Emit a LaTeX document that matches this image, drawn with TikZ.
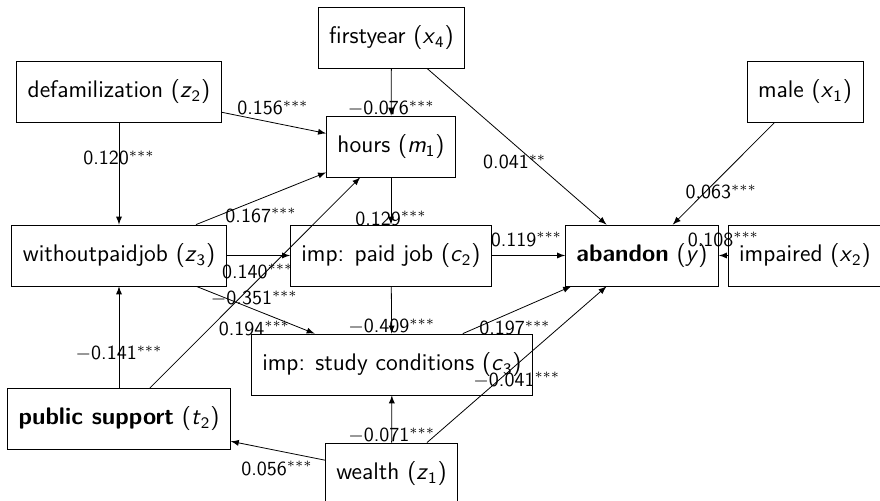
\documentclass[tikz,border=0pt]{standalone}
\usepackage{tikz}
\usetikzlibrary{arrows}
\newcommand{\vn}[2]{\textit{#1}\textsubscript{#2}}
\tikzstyle{var}=[draw,rectangle,minimum height=30.5pt,inner xsep=5.5pt,font=\large\sffamily]
\tikzstyle{coef}=[inner sep=1pt,font=\sffamily]

\begin{document}
\begin{tikzpicture}[x=0.5pt,y=-0.5pt,>=latex]
\useasboundingbox (0,0) rectangle (880,501);
\node[var] (x4) at (391.5,37.5)  {firstyear (\vn{x}{4})};
\node[var] (z2) at (119,91.5)    {defamilization (\vn{z}{2})};
\node[var] (m1) at (391,146.5)   {hours (\vn{m}{1})};
\node[var] (x1) at (805,92)      {male (\vn{x}{1})};
\node[var] (z3) at (119,255.5)   {withoutpaidjob (\vn{z}{3})};
\node[var] (c2) at (391,255.5)   {imp: paid job (\vn{c}{2})};
\node[var] (y)  at (642,255.5)   {\textbf{abandon} (\textit{y})};
\node[var] (x2) at (805,255.5)   {impaired (\vn{x}{2})};
\node[var] (c3) at (392,364.5)   {imp: study conditions (\vn{c}{3})};
\node[var] (t2) at (119,419)     {\textbf{public support} (\vn{t}{2})};
\node[var] (z1) at (391.5,473.5) {wealth (\vn{z}{1})};
\path[->]	(x4)	edge	node[coef,pos=.85]			{$-$0.076$^{***}$}	(m1)
			edge	node[coef,pos=.6,xshift=-10pt]		{0.041$^{**}$}		(y)
		(z2)	edge	node[coef,pos=.49,yshift=7.5pt]		{0.156$^{***}$}		(m1)
			edge	node[coef,pos=.35]			{0.120$^{***}$}		(z3)
		(m1)	edge	node[coef,pos=.87]			{0.129$^{***}$}		(c2)
		(x1)	edge	node[coef,pos=.68,xshift=8pt]		{0.063$^{***}$}		(y)
		(z3)	edge	node[coef,pos=.5,yshift=-8.5pt]		{0.167$^{***}$}		(m1)
			edge	node[coef,pos=.49,yshift=-8pt]		{0.140$^{***}$}		(c2)
			edge	node[coef,pos=.49,yshift=-9.5pt]	{0.194$^{***}$}		(c3)
		(t2)	edge	node[coef,pos=.425,xshift=7.5pt]	{$-$0.351$^{***}$}	(m1)
			edge	node[coef,pos=.34]			{$-$0.141$^{***}$}	(z3)
		(c2)	edge	node[coef,pos=.47,yshift=8pt]		{0.119$^{***}$}		(y)
			edge	node[coef,pos=.85]			{$-$0.409$^{***}$}	(c3)
		(x2)	edge	node[coef,pos=.5,yshift=8pt]		{0.108$^{***}$}		(y)
		(c3)	edge	node[coef,pos=.48,yshift=-8.5pt]	{0.197$^{***}$}		(y)
		(z1)	edge	node[coef,pos=.4,xshift=9pt]		{$-$0.041$^{***}$}	(y)
			edge	node[coef,pos=.15]			{$-$0.071$^{***}$}	(c3)
			edge	node[coef,pos=.51,yshift=-9pt]		{0.056$^{***}$}		(t2);
\end{tikzpicture}
\end{document}
